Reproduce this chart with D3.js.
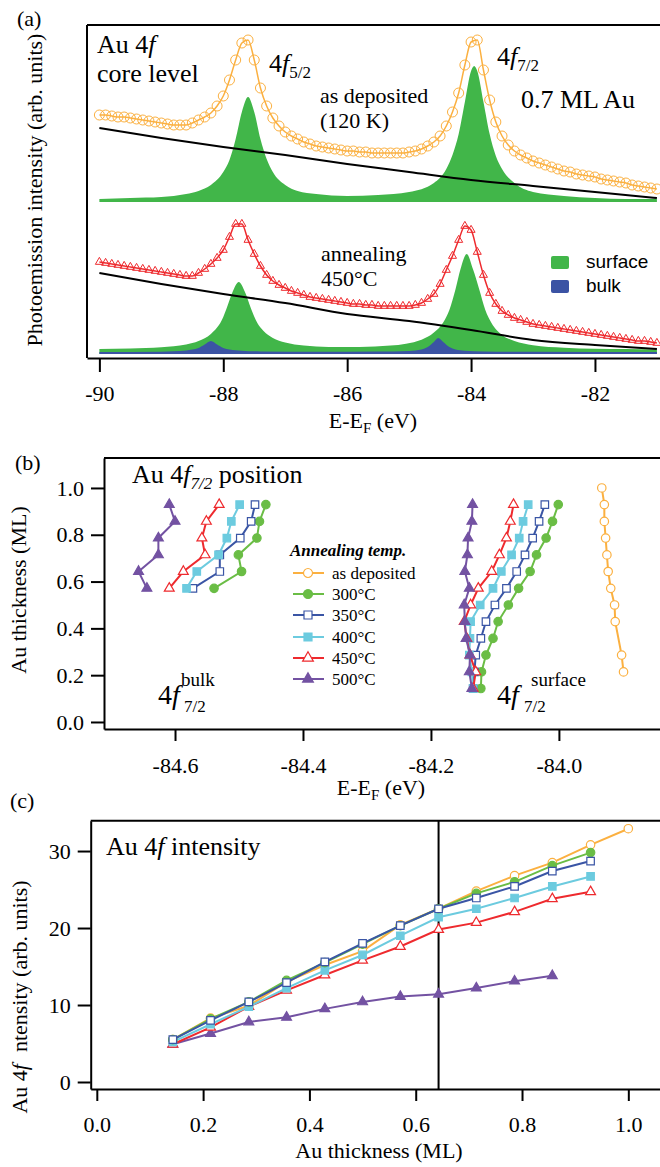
<!DOCTYPE html>
<html lang="en">
<head>
<meta charset="UTF-8">
<title>Au 4f core level</title>
<script src="https://cdn.jsdelivr.net/npm/d3@7"></script>
<style>
  body { margin: 0; background: #fff; }
  svg text { fill: #000; font-family: "Liberation Serif", "Times New Roman", Times, serif; }
  svg text.sans { font-family: "Liberation Sans", Arial, Helvetica, sans-serif; }
</style>
</head>
<body>
<script>
// ---------- panel (a): Au 4f spectra, 0.1 eV grid from -90 eV ----------
const eStart = -90, eStep = 0.1;
const asDeposited = [243,243,242,241,241,240,239,238,237,236,235,234,233,233,233,235,
  238,241,245,252,262,278,298,315,318,298,270,252,240,232,226,
  222,219,216,214,212,211,210,209,208,207,207,206,206,205,205,205,205,205,205,206,
  207,209,212,216,222,232,246,265,293,316,318,288,258,236,222,
  213,207,203,200,197,195,193,191,189,187,186,184,183,182,181,179,178,177,176,175,173,172,171,170,169];
const annealed450 = [96,95,94,93,92,91,90,89,88,87,86,85,84,83,82,82,
  85,89,94,100,108,121,134,134,118,104,92,83,77,73,70,
  67,65,63,61,60,59,58,57,56,55,54,54,53,53,52,52,52,52,52,52,
  53,55,59,64,74,88,102,118,132,128,106,83,65,54,47,
  43,40,38,36,34,33,32,31,30,29,28,27,26,25,24,23,22,21,20,19,18,17,17,16,15];

// background lines
const bgE = [-90,-89,-88,-87,-86,-85,-84,-83,-82,-81];
const bgDeposited = [230,220,211,203,194,186,178,172,166,160];
const bgAnnealed = [85,74,64,55,44,37,28,18,13,9];

// fitted components
const surfDepE = [-90,-89.5,-89,-88.6,-88.4,-88.2,-88,-87.9,-87.8,-87.7,-87.6,-87.5,-87.4,-87.3,-87.2,
  -87,-86.8,-86.5,-86,-85.5,-85,-84.6,-84.4,-84.3,-84.2,-84.1,-84,-83.95,-83.9,-83.8,-83.7,-83.6,-83.5,
  -83.3,-83,-82.5,-82,-81.5,-81];
const surfDep = [159,160,161,164,167,173,186,198,219,246,261,246,219,199,186,
  173,167,164,162,163,166,175,189,203,224,256,287,292,287,256,224,202,189,
  175,166,162,160,159,159];
const surfAnnE = [-90,-89.5,-89,-88.6,-88.4,-88.2,-88,-87.95,-87.85,-87.75,-87.65,-87.55,-87.45,-87.35,
  -87.2,-87,-86.7,-86.3,-85.8,-85.3,-84.8,-84.6,-84.45,-84.35,-84.25,-84.17,-84.07,
  -83.97,-83.87,-83.77,-83.67,-83.5,-83.3,-83,-82.5,-82,-81.5,-81];
const surfAnn = [9,9.5,10.8,13.6,17,24,41,49,66,76,66,49,35,27,
  20,15.4,12.4,11,11,12.4,18.3,25.4,35.5,48,69,89,104,
  89,69,48,35,23,17,12.8,10.3,9.3,8.9,8.6];
const bulkAnnE = [-90,-89,-88.8,-88.6,-88.5,-88.4,-88.3,-88.2,-88.1,-88,-87.9,-87.7,-87.4,-86.5,
  -85.5,-85,-84.9,-84.8,-84.7,-84.6,-84.53,-84.45,-84.35,-84.25,-84.1,-83.8,-83,-81];
const bulkAnn = [6,6.3,6.8,7.5,8.5,10,13.5,17,13.5,10,8.5,7.3,6.6,6.2,
  6.4,7,7.5,8.5,11,16,20,16,11,8.5,7.3,6.6,6.2,6];

// ---------- panel (b): 4f7/2 positions ----------
const thickDep = [1.0,0.929,0.857,0.786,0.714,0.643,0.571,0.5,0.429,0.286,0.214];
const thickSurf = [0.929,0.857,0.786,0.714,0.643,0.571,0.5,0.429,0.357,0.286,0.214,0.143];
const thickBulk = [0.929,0.857,0.786,0.714,0.643,0.571];

const surfPosDep = [-83.933,-83.929,-83.929,-83.927,-83.925,-83.923,-83.919,-83.913,-83.912,-83.902,-83.899];
const surfPos300 = [-84.001,-84.010,-84.020,-84.035,-84.045,-84.063,-84.079,-84.095,-84.103,-84.114,-84.121,-84.122];
const surfPos350 = [-84.022,-84.031,-84.041,-84.053,-84.066,-84.082,-84.100,-84.114,-84.122,-84.130,-84.132,-84.134];
const surfPos400 = [-84.048,-84.056,-84.062,-84.074,-84.090,-84.103,-84.123,-84.138,-84.139,-84.140,-84.136,-84.134];
const surfPos450 = [-84.071,-84.076,-84.082,-84.093,-84.105,-84.126,-84.138,-84.148,-84.144,-84.139,-84.130,-84.134];
const surfPos500 = [-84.135,-84.136,-84.142,-84.143,-84.147,-84.140,-84.148,-84.147,-84.145,-84.139,-84.140,-84.136];

const bulkPos300 = [-84.458,-84.468,-84.472,-84.501,-84.496,-84.539];
const bulkPos350 = [-84.475,-84.481,-84.498,-84.530,-84.530,-84.572];
const bulkPos400 = [-84.499,-84.512,-84.519,-84.532,-84.566,-84.582];
const bulkPos450 = [-84.531,-84.551,-84.558,-84.553,-84.587,-84.609];
const bulkPos500 = [-84.609,-84.600,-84.626,-84.626,-84.657,-84.644];

// ---------- panel (c): Au 4f intensity ----------
const thickInt = [0.143,0.214,0.286,0.357,0.429,0.5,0.571,0.643,0.714,0.786,0.857,0.929,1.0];
const intDep = [5.5,8.3,9.9,13.0,15.2,17.0,20.4,22.5,24.8,26.8,28.5,30.8,32.9];
const int300 = [5.5,8.2,10.4,13.2,15.5,17.9,20.3,22.5,24.5,26.0,28.1,29.8];
const int350 = [5.5,8.0,10.4,12.9,15.6,18.0,20.3,22.5,23.9,25.4,27.4,28.7];
const int400 = [5.2,7.5,9.8,12.2,14.5,16.5,19.0,21.4,22.5,23.9,25.4,26.7];
const int450 = [4.9,7.1,9.8,11.9,13.9,15.8,17.6,19.8,20.7,22.1,23.8,24.7];
const int500 = [4.9,6.3,7.8,8.4,9.5,10.4,11.1,11.4,12.2,13.1,13.8];
const thickMark = 0.643;

const seriesNames = ["as deposited", "300°C", "350°C", "400°C", "450°C", "500°C"];
const seriesColors = ["#FBB040", "#6ABD45", "#3A55A5", "#6CCBDF", "#EE2A2E", "#7352A2"];
const seriesSymbols = [d3.symbolCircle, d3.symbolCircle, d3.symbolSquare, d3.symbolSquare, d3.symbolTriangle, d3.symbolTriangle];
const seriesOpen = [true, false, true, false, true, false];

const surfGreen = "#41B649", bulkBlue = "#3B53A4";

const svg = d3.select("body").append("svg").attr("width", 660).attr("height", 1167);

// text with italic / sub / sup pieces; parts: {t, it, dy (offset from baseline), fs}
function richText(x, y, size, parts, opts) {
  opts = opts || {};
  const t = svg.append("text").style("font-size", size + "px")
    .attr("text-anchor", opts.anchor || "start");
  if (opts.rotate) t.attr("transform", `translate(${x},${y}) rotate(-90)`);
  else t.attr("x", x).attr("y", y);
  if (opts.weight) t.style("font-weight", opts.weight);
  if (opts.cls) t.attr("class", opts.cls);
  let shift = 0;
  parts.forEach(p => {
    if (typeof p === "string") p = { t: p };
    const s = t.append("tspan").text(p.t);
    if (p.it) s.style("font-style", "italic");
    if (p.fs) s.style("font-size", p.fs + "px");
    if (p.dx) s.attr("dx", p.dx);
    const target = p.dy || 0;
    if (target !== shift) { s.attr("dy", target - shift); shift = target; }
  });
  return t;
}

function styleAxis(g, size) {
  g.attr("font-family", null);
  g.selectAll("text").style("font-size", size + "px");
  g.select(".domain").attr("stroke-width", 2);
  g.selectAll(".tick line").attr("stroke-width", 2);
}

// ================= panel (a) =================
const xA = d3.scaleLinear().domain([-90.2, -80.95]).range([87, 660]);
const yA = d3.scaleLinear().domain([0, 333]).range([358, 25]);
const gridE = asDeposited.map((_, i) => eStart + i * eStep);

function areaOf(E, base) {
  return d3.area().x((d, i) => xA(E[i])).y0(yA(base)).y1(d => yA(d)).curve(d3.curveMonotoneX);
}
function lineOf(E, xs, ys) {
  return d3.line().x((d, i) => xs(E[i])).y(d => ys(d)).curve(d3.curveMonotoneX);
}

const gA = svg.append("g");
gA.append("path").attr("d", areaOf(surfDepE, 156)(surfDep)).attr("fill", surfGreen);
gA.append("path").attr("d", areaOf(surfAnnE, 4)(surfAnn)).attr("fill", surfGreen);
gA.append("path").attr("d", areaOf(bulkAnnE, 4)(bulkAnn)).attr("fill", bulkBlue);

gA.append("path").attr("d", lineOf(bgE, xA, yA)(bgDeposited)).attr("fill", "none").attr("stroke", "#000").attr("stroke-width", 2);
gA.append("path").attr("d", lineOf(bgE, xA, yA)(bgAnnealed)).attr("fill", "none").attr("stroke", "#000").attr("stroke-width", 2);

gA.append("path").attr("d", lineOf(gridE, xA, yA)(asDeposited)).attr("fill", "none")
  .attr("stroke", seriesColors[0]).attr("stroke-width", 1.5);
gA.selectAll("circle.dep").data(asDeposited).join("circle")
  .attr("cx", (d, i) => xA(gridE[i])).attr("cy", d => yA(d)).attr("r", 5)
  .attr("fill", "none").attr("stroke", seriesColors[0]).attr("stroke-width", 1);

gA.append("path").attr("d", lineOf(gridE, xA, yA)(annealed450)).attr("fill", "none")
  .attr("stroke", seriesColors[4]).attr("stroke-width", 1.5);
gA.selectAll("path.ann").data(annealed450).join("path").attr("class", "ann")
  .attr("d", d3.symbol(d3.symbolTriangle, 28))
  .attr("transform", (d, i) => `translate(${xA(gridE[i])},${yA(d)})`)
  .attr("fill", "none").attr("stroke", seriesColors[4]).attr("stroke-width", 1);

// frame
svg.append("line").attr("x1", 87).attr("x2", 660).attr("y1", 25).attr("y2", 25).attr("stroke", "#000").attr("stroke-width", 2);
svg.append("line").attr("x1", 87).attr("x2", 87).attr("y1", 25).attr("y2", 358).attr("stroke", "#000").attr("stroke-width", 2);
const axA = svg.append("g").attr("transform", "translate(0,358)")
  .call(d3.axisBottom(xA).tickValues([-90, -88, -86, -84, -82]).tickSize(14).tickSizeOuter(0)
    .tickPadding(13).tickFormat(d => String(d)));
styleAxis(axA, 22);

// legend (a)
svg.append("rect").attr("x", 551).attr("y", 256).attr("width", 18).attr("height", 13).attr("rx", 2).attr("fill", surfGreen);
svg.append("rect").attr("x", 551).attr("y", 280).attr("width", 18).attr("height", 13).attr("rx", 2).attr("fill", bulkBlue);
richText(586, 268, 19, ["surface"], { cls: "sans" });
richText(586, 292, 19, ["bulk"], { cls: "sans" });

// labels (a)
richText(17, 26, 22, ["(a)"]);
richText(97, 53, 26, ["Au 4", { t: "f", it: true }]);
richText(97, 82, 26, ["core level"]);
richText(269, 72, 26, ["4", { t: "f", it: true }, { t: "5/2", fs: 17, dy: 6 }]);
richText(497, 65, 26, ["4", { t: "f", it: true }, { t: "7/2", fs: 17, dy: 6 }]);
richText(320, 103, 22, ["as deposited"]);
richText(320, 128, 22, ["(120 K)"]);
richText(521, 108, 26, ["0.7 ML Au"]);
richText(321, 261, 22, ["annealing"]);
richText(321, 286, 22, ["450°C"]);
richText(373, 428, 22, ["E-E", { t: "F", fs: 15, dy: 5 }, { t: " (eV)", dy: 0 }], { anchor: "middle" });
richText(42, 190, 22, ["Photoemission intensity (arb. units)"], { anchor: "middle", rotate: true });

// ================= panel (b) =================
const xB = d3.scaleLinear().domain([-84.711, -83.842]).range([104, 660]);
const yB = d3.scaleLinear().domain([-0.03, 1.128]).range([729, 458]);

svg.append("line").attr("x1", 104).attr("x2", 660).attr("y1", 458).attr("y2", 458).attr("stroke", "#000").attr("stroke-width", 2);
const axBx = svg.append("g").attr("transform", "translate(0,729)")
  .call(d3.axisBottom(xB).tickValues([-84.6, -84.4, -84.2, -84.0]).tickSize(12).tickSizeOuter(0)
    .tickPadding(16).tickFormat(d => d.toFixed(1)));
styleAxis(axBx, 22);
const axBy = svg.append("g").attr("transform", "translate(104,0)")
  .call(d3.axisLeft(yB).tickValues([0, 0.2, 0.4, 0.6, 0.8, 1.0]).tickSize(13).tickSizeOuter(0)
    .tickPadding(7).tickFormat(d => d.toFixed(1)));
styleAxis(axBy, 22);

const surfPos = [surfPosDep, surfPos300, surfPos350, surfPos400, surfPos450, surfPos500];
const bulkPos = [null, bulkPos300, bulkPos350, bulkPos400, bulkPos450, bulkPos500];

function drawSeries(g, xs, ys, xv, yv, k) {
  const pts = xv.map((v, i) => [xs(v), ys(yv[i])]);
  g.append("path").attr("d", d3.line()(pts)).attr("fill", "none")
    .attr("stroke", seriesColors[k]).attr("stroke-width", 2);
  g.selectAll(null).data(pts).join("path")
    .attr("d", d3.symbol(seriesSymbols[k], seriesSymbols[k] === d3.symbolTriangle ? 42 : 56))
    .attr("transform", d => `translate(${d[0]},${d[1]})`)
    .attr("fill", seriesOpen[k] ? "#fff" : seriesColors[k])
    .attr("stroke", seriesColors[k]).attr("stroke-width", 1.2);
}

const gB = svg.append("g");
seriesNames.forEach((n, k) => {
  drawSeries(gB, xB, yB, surfPos[k], k === 0 ? thickDep : thickSurf, k);
  if (bulkPos[k]) drawSeries(gB, xB, yB, bulkPos[k], thickBulk, k);
});

// legend (b)
richText(290, 556, 17, [{ t: "Annealing temp.", it: true }], { weight: "bold" });
const legY = [573, 594, 615, 637, 658, 679];
seriesNames.forEach((n, k) => {
  svg.append("line").attr("x1", 293).attr("x2", 324).attr("y1", legY[k]).attr("y2", legY[k])
    .attr("stroke", seriesColors[k]).attr("stroke-width", 2);
  svg.append("path").attr("d", d3.symbol(seriesSymbols[k], seriesSymbols[k] === d3.symbolTriangle ? 50 : 64))
    .attr("transform", `translate(308,${legY[k]})`)
    .attr("fill", seriesOpen[k] ? "#fff" : seriesColors[k])
    .attr("stroke", seriesColors[k]).attr("stroke-width", 1.2);
  richText(332, legY[k] + 6, 17, [n]);
});

richText(15, 470, 22, ["(b)"]);
richText(132, 483, 26, ["Au 4", { t: "f", it: true }, { t: "7/2", it: true, fs: 17, dy: 6 }, { t: " position", dy: 0 }]);
richText(158, 704, 28, ["4", { t: "f", it: true }]);
richText(184, 712, 17, ["7/2"]);
richText(181, 686, 19, ["bulk"]);
richText(497, 704, 28, ["4", { t: "f", it: true }]);
richText(524, 712, 17, ["7/2"]);
richText(531, 686, 19, ["surface"]);
richText(381, 795, 22, ["E-E", { t: "F", fs: 15, dy: 5 }, { t: " (eV)", dy: 0 }], { anchor: "middle" });
richText(26, 590, 22, ["Au thickness (ML)"], { anchor: "middle", rotate: true });

// ================= panel (c) =================
const xC = d3.scaleLinear().domain([-0.0115, 1.0596]).range([90.7, 660]);
const yC = d3.scaleLinear().domain([-0.91, 33.94]).range([1089, 820.7]);

svg.append("line").attr("x1", 90.7).attr("x2", 660).attr("y1", 820.7).attr("y2", 820.7).attr("stroke", "#000").attr("stroke-width", 2);
const axCx = svg.append("g").attr("transform", "translate(0,1089)")
  .call(d3.axisBottom(xC).tickValues([0, 0.2, 0.4, 0.6, 0.8, 1.0]).tickSize(12).tickSizeOuter(0)
    .tickPadding(15).tickFormat(d => d.toFixed(1)));
styleAxis(axCx, 22);
const axCy = svg.append("g").attr("transform", "translate(90.7,0)")
  .call(d3.axisLeft(yC).tickValues([0, 10, 20, 30]).tickSize(13).tickSizeOuter(0)
    .tickPadding(7).tickFormat(d => String(d)));
styleAxis(axCy, 22);

svg.append("line").attr("x1", xC(thickMark)).attr("x2", xC(thickMark))
  .attr("y1", yC.range()[1]).attr("y2", yC.range()[0]).attr("stroke", "#000").attr("stroke-width", 2);

const intens = [intDep, int300, int350, int400, int450, int500];
const gC = svg.append("g");
[0, 5, 4, 3, 1, 2].forEach(k => {
  drawSeries(gC, xC, yC, thickInt.slice(0, intens[k].length), intens[k], k);
});

richText(10, 808, 22, ["(c)"]);
richText(106, 855, 26, ["Au 4", { t: "f", it: true }, " intensity"]);
richText(379, 1158, 22, ["Au thickness (ML)"], { anchor: "middle" });
richText(27, 997, 22, ["Au 4", { t: "f", it: true }, { t: "ntensity (arb. units)", dx: 12 }], { anchor: "middle", rotate: true });
</script>
</body>
</html>
